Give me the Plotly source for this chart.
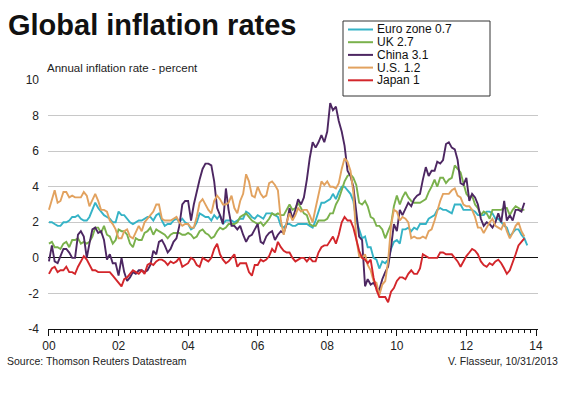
import pandas as pd
import plotly.graph_objects as go

# ---------------- data (annual % change, monthly, from Jan 2000) ----------------
start_month = "2000-01-01"

euro_zone = [
    2.0, 2.0, 1.9, 1.8, 1.8, 2.0, 2.0, 2.1, 2.3, 2.3, 2.4, 2.2,
    2.1, 2.1, 2.3, 2.7, 3.1, 2.8, 2.6, 2.4, 2.3, 2.2, 2.0, 2.0,
    2.6, 2.4, 2.4, 2.2, 2.0, 1.9, 2.0, 2.1, 2.1, 2.2, 2.3, 2.3,
    2.1, 2.4, 2.5, 2.1, 1.8, 1.9, 1.9, 2.1, 2.2, 2.0, 2.2, 2.0,
    1.9, 1.6, 1.7, 2.0, 2.5, 2.4, 2.3, 2.3, 2.1, 2.4, 2.2, 2.4,
    1.9, 2.1, 2.1, 2.1, 2.0, 2.1, 2.2, 2.2, 2.6, 2.5, 2.3, 2.2,
    2.4, 2.3, 2.2, 2.5, 2.5, 2.5, 2.4, 2.3, 1.8, 1.7, 1.9, 1.9,
    1.8, 1.8, 1.9, 1.9, 1.9, 1.9, 1.8, 1.7, 2.1, 2.6, 3.1, 3.1,
    3.2, 3.3, 3.6, 3.3, 3.7, 4.0, 4.0, 3.8, 3.6, 3.2, 2.1, 1.6,
    1.1, 1.2, 0.6, 0.6, 0.0, -0.1, -0.6, -0.2, -0.3, -0.1, 0.5, 0.9,
    1.0, 0.8, 1.6, 1.6, 1.7, 1.5, 1.7, 1.6, 1.9, 1.9, 1.9, 2.2,
    2.3, 2.4, 2.7, 2.8, 2.7, 2.7, 2.6, 2.5, 3.0, 3.0, 3.0, 2.7,
    2.7, 2.7, 2.7, 2.6, 2.4, 2.4, 2.4, 2.6, 2.6, 2.5, 2.2, 2.2,
    2.0, 1.8, 1.7, 1.2, 1.4, 1.6, 1.6, 1.3, 1.1, 0.7,
]

uk = [
    0.8, 0.9, 0.6, 0.6, 0.5, 0.8, 0.9, 0.6, 1.0, 1.0, 1.1, 0.8,
    0.9, 0.8, 0.9, 1.2, 1.7, 1.7, 1.4, 1.8, 1.3, 1.2, 0.8, 1.0,
    1.6, 1.5, 1.5, 1.3, 0.8, 0.6, 1.1, 1.0, 1.0, 1.4, 1.5, 1.7,
    1.3, 1.6, 1.5, 1.4, 1.3, 1.1, 1.3, 1.4, 1.4, 1.4, 1.3, 1.3,
    1.4, 1.3, 1.1, 1.2, 1.5, 1.6, 1.4, 1.3, 1.1, 1.2, 1.5, 1.7,
    1.6, 1.7, 1.9, 1.9, 1.9, 2.0, 2.3, 2.4, 2.5, 2.3, 2.1, 2.0,
    1.9, 2.0, 1.8, 2.0, 2.2, 2.5, 2.4, 2.5, 2.4, 2.4, 2.7, 3.0,
    2.7, 2.8, 3.1, 2.8, 2.5, 2.4, 1.9, 1.8, 1.8, 2.1, 2.1, 2.1,
    2.2, 2.5, 2.5, 3.0, 3.3, 3.8, 4.3, 4.6, 4.7, 4.5, 4.1, 3.1,
    3.0, 3.2, 2.9, 2.3, 2.2, 1.8, 1.8, 1.6, 1.1, 1.5, 1.9, 2.9,
    3.5, 3.0, 3.4, 3.7, 3.4, 3.2, 3.1, 3.1, 3.1, 3.2, 3.3, 3.7,
    4.0, 4.4, 4.0, 4.5, 4.5, 4.2, 4.4, 4.5, 5.2, 5.0, 4.8, 4.2,
    3.6, 3.4, 3.5, 3.0, 2.8, 2.4, 2.6, 2.5, 2.2, 2.7, 2.7, 2.7,
    2.7, 2.8, 2.8, 2.4, 2.7, 2.9, 2.8, 2.7, 2.7,
]

china = [
    -0.2, 0.7, -0.2, -0.3, 0.1, 0.5, 0.5, 0.3, 0.0, 0.0, 1.3, 1.5,
    1.2, 0.0, 0.8, 1.6, 1.7, 1.4, 1.5, 1.0, -0.1, 0.2, -0.3, -0.3,
    -1.0, 0.0, -0.8, -1.3, -1.1, -0.8, -0.9, -0.7, -0.7, -0.8, -0.7, -0.4,
    0.4, 0.2, 0.9, 1.0, 0.7, 0.3, 0.5, 0.9, 1.1, 1.8, 3.0, 3.2,
    3.2, 2.1, 3.0, 3.8, 4.4, 5.0, 5.3, 5.3, 5.2, 4.3, 2.8, 2.4,
    1.9, 3.9, 2.7, 1.8, 1.8, 1.6, 1.8, 1.3, 0.9, 1.2, 1.3, 1.6,
    1.9, 0.9, 0.8, 1.2, 1.4, 1.5, 1.0, 1.3, 1.5, 1.4, 1.9, 2.8,
    2.2, 2.7, 3.3, 3.0, 3.4, 4.4, 5.6, 6.5, 6.2, 6.5, 6.9, 6.5,
    7.1, 8.7, 8.3, 8.5, 7.7, 7.1, 6.3, 4.9, 4.6, 4.0, 2.4, 1.2,
    1.0, -1.6, -1.2, -1.5, -1.4, -1.7, -1.8, -1.2, -0.8, -0.5, 0.6, 1.9,
    1.5, 2.7, 2.4, 2.8, 3.1, 2.9, 3.3, 3.5, 3.6, 4.4, 5.1, 4.6,
    4.9, 4.9, 5.4, 5.3, 5.5, 6.4, 6.5, 6.2, 6.1, 5.5, 4.2, 4.1,
    4.5, 3.2, 3.6, 3.4, 3.0, 2.2, 1.8, 2.0, 1.9, 1.7, 2.0, 2.5,
    2.0, 3.2, 2.1, 2.4, 2.1, 2.7, 2.7, 2.6, 3.1,
]

us = [
    2.7, 3.2, 3.8, 3.1, 3.2, 3.7, 3.7, 3.4, 3.5, 3.4, 3.4, 3.4,
    3.7, 3.5, 2.9, 3.3, 3.6, 3.2, 2.7, 2.7, 2.6, 2.1, 1.9, 1.6,
    1.1, 1.1, 1.5, 1.6, 1.2, 1.1, 1.5, 1.8, 1.5, 2.0, 2.2, 2.4,
    2.6, 3.0, 3.0, 2.2, 2.1, 2.1, 2.1, 2.2, 2.3, 2.0, 1.8, 1.9,
    1.9, 1.7, 1.7, 2.3, 3.1, 3.3, 3.0, 2.7, 2.5, 3.2, 3.5, 3.3,
    3.0, 3.0, 3.1, 3.5, 2.8, 2.5, 3.2, 3.6, 4.7, 4.3, 3.5, 3.4,
    4.0, 3.6, 3.4, 3.5, 4.2, 4.3, 4.1, 3.8, 2.1, 1.3, 2.0, 2.5,
    2.1, 2.4, 2.8, 2.6, 2.7, 2.7, 2.4, 2.0, 2.8, 3.5, 4.3, 4.1,
    4.3, 4.0, 4.0, 3.9, 4.2, 5.0, 5.6, 5.4, 4.9, 3.7, 1.1, 0.1,
    0.0, 0.2, -0.4, -0.7, -1.3, -1.4, -2.1, -1.5, -1.3, -0.2, 1.8, 2.7,
    2.6, 2.1, 2.3, 2.2, 2.0, 1.1, 1.2, 1.1, 1.1, 1.2, 1.1, 1.5,
    1.6, 2.1, 2.7, 3.2, 3.6, 3.6, 3.6, 3.8, 3.9, 3.5, 3.4, 3.0,
    2.9, 2.9, 2.7, 2.3, 1.7, 1.7, 1.4, 1.7, 2.0, 2.2, 1.8, 1.7,
    1.6, 2.0, 1.5, 1.1, 1.4, 1.8, 2.0, 1.5, 1.2,
]

japan = [
    -0.9, -0.6, -0.5, -0.8, -0.7, -0.7, -0.5, -0.8, -0.8, -0.9, -0.5, -0.2,
    0.1, -0.1, -0.4, -0.7, -0.7, -0.8, -0.8, -0.8, -0.8, -0.8, -1.0, -1.2,
    -1.4, -1.6, -1.2, -1.1, -0.9, -0.7, -0.8, -0.9, -0.7, -0.9, -0.4, -0.3,
    -0.4, -0.2, -0.1, -0.1, -0.2, -0.4, -0.2, -0.3, -0.2, 0.0, -0.5, -0.4,
    -0.3, 0.0, -0.1, -0.4, -0.5, 0.0, -0.1, -0.2, 0.0, 0.5, 0.8, 0.2,
    -0.1, -0.3, -0.2, 0.0, 0.2, -0.5, -0.3, -0.3, -0.3, -0.8, -1.0, -0.4,
    -0.4, -0.1, -0.2, -0.1, 0.1, 0.5, 0.3, 0.9, 0.6, 0.4, 0.3, 0.3,
    0.0, -0.2, -0.1, 0.0, 0.0, -0.2, 0.0, -0.2, -0.2, 0.3, 0.6, 0.7,
    0.7, 1.0, 1.2, 0.8, 1.3, 2.0, 2.3, 2.1, 2.1, 1.7, 1.0, 0.4,
    0.0, -0.1, -0.3, -0.1, -1.1, -1.8, -2.2, -2.2, -2.2, -2.5, -1.9, -1.7,
    -1.3, -1.1, -1.1, -1.2, -0.9, -0.7, -0.9, -0.9, -0.6, 0.2, 0.1, 0.0,
    0.0, 0.0, 0.0, 0.3, 0.3, 0.2, 0.2, 0.2, 0.0, -0.2, -0.5, -0.2,
    0.1, 0.3, 0.5, 0.4, 0.2, -0.2, -0.4, -0.5, -0.3, -0.4, -0.2, -0.1,
    -0.3, -0.6, -0.9, -0.7, -0.3, 0.2, 0.7, 0.9, 1.1,
]

series_names = ["Euro zone 0.7", "UK 2.7", "China 3.1", "U.S. 1.2", "Japan 1"]
series_values = [euro_zone, uk, china, us, japan]
series_colors = ["#35b3c6", "#7ab14c", "#4d2762", "#e2a25f", "#d3262b"]

y_tick_vals = [-4, -2, 0, 2, 4, 6, 8, 10]
y_tick_text = ["-4", "-2", "0", "2", "4", "6", "8", "10"]

title_text = "Global inflation rates"
subtitle_text = "Annual inflation rate - percent"
source_text = "Source: Thomson Reuters Datastream"
credit_text = "V. Flasseur, 10/31/2013"

# ---------------- layout geometry (pixels) ----------------
W, H = 570, 393
PL, PR, PT, PB = 48, 538, 80, 329  # plot area edges
FONT = "Liberation Sans, Arial, sans-serif"


def px(x):
    return (x - PL) / (PR - PL)


def py(y):
    return (PB - y) / (PB - PT)


fig = go.Figure()
for i in range(len(series_values)):
    vals = series_values[i]
    dates = pd.date_range(start_month, periods=len(vals), freq="MS")
    fig.add_trace(go.Scatter(
        x=dates, y=vals, mode="lines", name=series_names[i],
        line=dict(color=series_colors[i], width=1.9),
        showlegend=False, hoverinfo="skip",
    ))

shapes = []
annotations = []

# legend box
shapes.append(dict(type="rect", xref="paper", yref="paper",
                   x0=px(343), x1=px(490), y0=py(96), y1=py(21),
                   line=dict(color="#333333", width=1), fillcolor="white",
                   layer="above"))
legend_rows = [29.5, 42.2, 54.9, 67.6, 80.3]
for name, color, ry in zip(series_names, series_colors, legend_rows):
    shapes.append(dict(type="line", xref="paper", yref="paper",
                       x0=px(348), x1=px(373), y0=py(ry), y1=py(ry),
                       line=dict(color=color, width=2), layer="above"))
    annotations.append(dict(text=name, xref="paper", yref="paper",
                            x=px(376), y=py(ry), xanchor="left", yanchor="middle",
                            showarrow=False, borderpad=0,
                            font=dict(family=FONT, size=12, color="#111111")))

annotations.append(dict(text=title_text, xref="paper", yref="paper",
                        x=px(6), y=py(25), xanchor="left", yanchor="middle",
                        showarrow=False,
                        font=dict(family=FONT, size=29, color="#111111", weight="bold")))
annotations.append(dict(text=subtitle_text, xref="paper", yref="paper",
                        x=px(45), y=py(68), xanchor="left", yanchor="middle",
                        showarrow=False, font=dict(family=FONT, size=11.5, color="#222222")))
annotations.append(dict(text=source_text, xref="paper", yref="paper",
                        x=px(5), y=py(361), xanchor="left", yanchor="middle",
                        showarrow=False, font=dict(family=FONT, size=10.5, color="#222222")))
annotations.append(dict(text=credit_text, xref="paper", yref="paper",
                        x=px(560), y=py(361), xanchor="right", yanchor="middle",
                        showarrow=False, font=dict(family=FONT, size=10.5, color="#222222")))

fig.update_layout(
    width=W, height=H, autosize=False,
    margin=dict(l=PL, r=W - PR, t=PT, b=H - PB, pad=0),
    paper_bgcolor="white", plot_bgcolor="white",
    font=dict(family=FONT, size=12, color="#222222"),
    shapes=shapes, annotations=annotations,
    showlegend=False,
)

fig.update_xaxes(
    type="date", range=["1999-12-22", "2014-01-22"],
    tick0="2000-01-01", dtick="M24", tickformat="%y",
    ticks="outside", ticklen=6, tickwidth=1, tickcolor="#111111",
    showline=True, linecolor="#111111", linewidth=1,
    showgrid=False, zeroline=False,
    tickfont=dict(family=FONT, size=12, color="#222222"),
    minor=dict(dtick="M2", tick0="2000-01-01", ticks="outside", ticklen=3,
               tickwidth=1, tickcolor="#111111", showgrid=False),
)

fig.update_yaxes(
    range=[-4, 10], tickvals=y_tick_vals, ticktext=y_tick_text,
    showgrid=True, gridcolor="#c8c8c8", gridwidth=1,
    zeroline=True, zerolinecolor="#111111", zerolinewidth=1,
    showline=False, ticks="", ticklabelstandoff=8,
    tickfont=dict(family=FONT, size=12, color="#222222"),
)

fig.write_html(
    "out.html",
    config={"displayModeBar": False, "staticPlot": True},
    post_script="document.body.style.margin='0';document.body.style.overflow='hidden';",
)
